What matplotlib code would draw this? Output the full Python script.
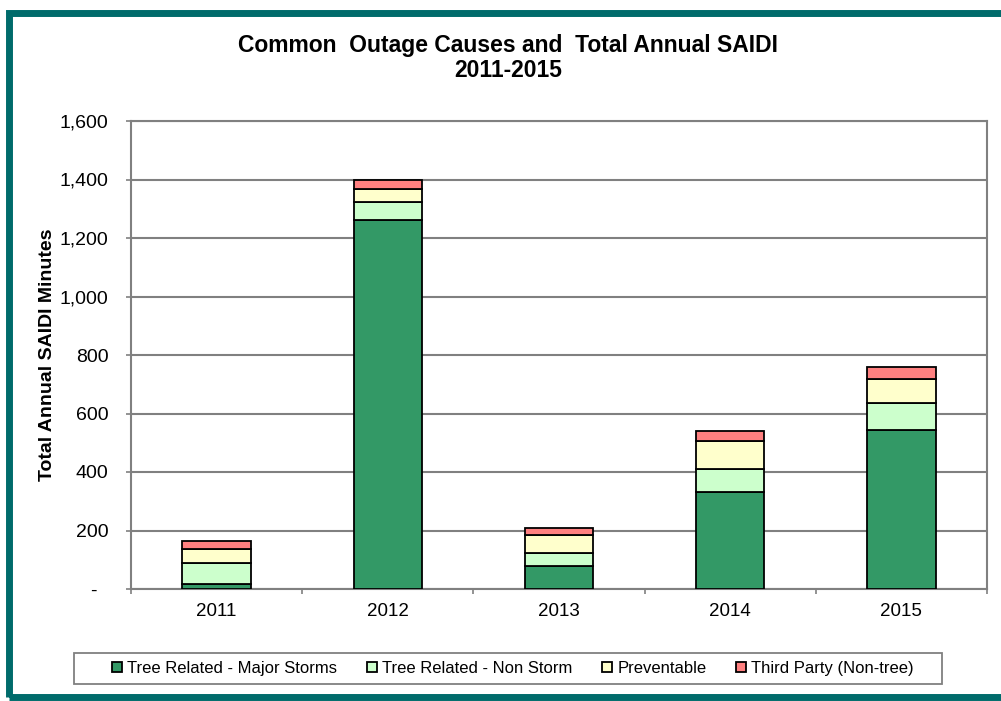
import matplotlib.pyplot as plt
import numpy as np
from matplotlib.patches import Rectangle
from matplotlib.ticker import FuncFormatter

plt.rcParams['font.family'] = ['Liberation Sans', 'DejaVu Sans']

# data (SAIDI minutes)
years = ['2011', '2012', '2013', '2014', '2015']
major_storms = [17, 1262, 80, 333, 544]
non_storm = [73, 61, 42, 77, 93]
preventable = [46, 46, 64, 96, 81]
third_party = [29, 29, 22, 34, 40]

series_names = ['Tree Related - Major Storms', 'Tree Related - Non Storm',
                'Preventable', 'Third Party (Non-tree)']
series_colors = ['#339966', '#CCFFCC', '#FFFFCC', '#FF8080']

W, H = 1001, 701
fig = plt.figure(figsize=(W / 100, H / 100), dpi=100)

# teal frame around the whole picture
fig.patches.append(Rectangle((8.5 / W, 1 - 696.5 / H), 1.05, (696.5 - 13) / H,
                             transform=fig.transFigure, fill=False,
                             edgecolor='#006B6B', lw=5, zorder=0))

ax = fig.add_axes([131 / W, 1 - 589 / H, 856 / W, 468 / H])

x = np.arange(len(years))
bottom = np.zeros(len(years))
for vals, name, col in zip([major_storms, non_storm, preventable, third_party],
                           series_names, series_colors):
    ax.bar(x, vals, width=0.4, bottom=bottom, color=col, edgecolor='black',
           lw=1.3, label=name, zorder=3)
    bottom += np.array(vals)

ax.set_xlim(-0.5, 4.5)
ax.set_ylim(0, 1600)
ax.set_yticks(np.arange(0, 1601, 200))
ax.yaxis.set_major_formatter(FuncFormatter(
    lambda v, p: '-  ' if v == 0 else f'{int(v):,}'))
ax.grid(axis='y', color='#808080', lw=1.5, zorder=0)

# category boundary ticks, labels in between
ax.set_xticks(np.arange(-0.5, 5, 1))
ax.set_xticklabels([])
ax.set_xticks(x, minor=True)
ax.set_xticklabels(years, minor=True)
ax.tick_params(axis='x', which='minor', length=0, pad=10, labelsize=13.5)
ax.tick_params(axis='x', which='major', length=3.6, width=1.2, color='#808080')
ax.tick_params(axis='y', length=3.6, width=1.2, color='#808080', pad=12.5,
               labelsize=14)

for s in ax.spines.values():
    s.set_color('#808080')
    s.set_linewidth(1.5)

ax.set_ylabel('Total Annual SAIDI Minutes', fontsize=14, fontweight='bold',
              labelpad=3)

fig.text(508 / W, 1 - 58 / H,
         'Common  Outage Causes and  Total Annual SAIDI\n2011-2015',
         ha='center', va='center', fontsize=16.5, fontweight='bold',
         linespacing=1.15)

# legend box
fig.patches.append(Rectangle((74 / W, 1 - 684 / H), 868 / W, 31 / H,
                             transform=fig.transFigure, fill=False,
                             edgecolor='#808080', lw=1.3))
fig.legend(loc='center', bbox_to_anchor=(513 / W, 1 - 668.5 / H), ncol=4,
           frameon=False, fontsize=12, handlelength=0.6, handleheight=0.6,
           handletextpad=0.3, columnspacing=1.8)

fig.savefig('out.png', dpi=100)
